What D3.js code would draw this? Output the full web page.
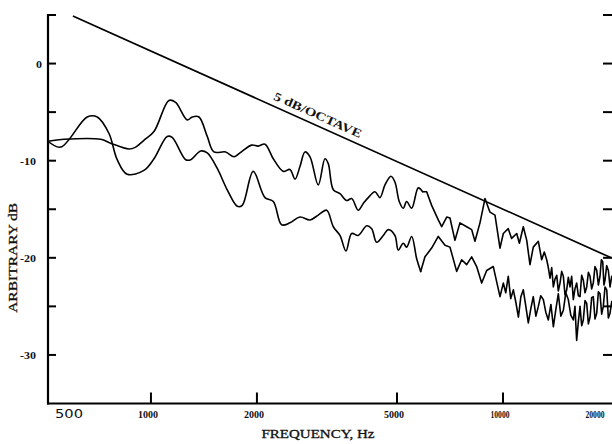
<!DOCTYPE html>
<html>
<head>
<meta charset="utf-8">
<script src="https://cdn.jsdelivr.net/npm/d3@7"></script>
<style>
  body { margin: 0; background: #fff; }
  text { fill: #111; }
</style>
</head>
<body>
<svg id="chart"></svg>
<script>
// Upper spectrum (frequency in Hz, level in dB)
const freqUpper = [510, 566, 720, 768, 866, 905, 955, 1020, 1125, 1175, 1268, 1310, 1369, 1445, 1510, 1630, 1721, 1790,
  1932, 2017, 2108, 2226, 2376, 2482, 2566, 2650, 2739, 2830, 2987, 3121, 3189, 3296, 3443, 3597, 3717, 3880, 4010,
  4143, 4328, 4472, 4621, 4805, 4932, 5073, 5208, 5325, 5503, 5746, 5914, 6070, 6271, 6549, 6697, 6920, 7070, 7304,
  7546, 7885, 8147, 8325, 8602, 8889, 9185, 9490, 9806, 10020, 10350, 10580, 10940, 11130, 11420, 11680, 11930,
  12190, 12600, 12880, 13100, 13310, 13450, 13600, 13750, 13900, 14050, 14210, 14360, 14520, 14680, 14840, 15000,
  15170, 15330, 15500, 15670, 15840, 16010, 16190, 16370, 16550, 16730, 16910, 17100, 17290, 17480, 17670, 17860,
  18050, 18250, 18460, 18660, 18860, 19030, 19200, 19350, 19490, 19700, 19920, 20140, 20360];
const dbUpper = [-8.0, -7.8, -7.8, -8.2, -8.8, -8.6, -7.9, -7.0, -3.8, -4.0, -5.8, -5.5, -5.5, -7.5, -9.1, -9.1, -9.6, -9.2,
  -8.4, -8.5, -8.3, -9.8, -11.1, -10.9, -11.9, -10.6, -9.1, -9.6, -12.5, -9.8, -10.3, -13.0, -13.4, -14.1, -13.9, -15.1, -14.4,
  -13.8, -13.2, -13.8, -12.5, -11.6, -12.2, -14.2, -14.9, -14.2, -14.9, -12.8, -13.2, -13.2, -14.6, -16.1, -16.8, -15.8, -15.9, -18.2,
  -16.4, -16.8, -17.1, -18.3, -16.4, -13.9, -15.3, -15.6, -19.0, -17.5, -17.0, -18.0, -17.5, -18.5, -16.8, -18.2, -20.7,
  -18.9, -18.3, -20.2, -19.4, -20.2, -21.0, -22.1, -21.0, -23.0, -22.2, -21.8, -23.4, -22.6, -21.4, -21.9, -23.8,
  -23.3, -22.0, -23.0, -21.9, -24.3, -23.2, -22.6, -23.9, -24.0, -21.8, -22.3, -23.6, -23.0, -21.5, -21.9, -23.2,
  -22.6, -20.9, -21.3, -22.8, -21.9, -20.2, -20.4, -22.8, -22.3, -20.8, -21.3, -23.0, -21.9];

// Lower spectrum
const freqLower = [510, 554, 659, 704, 760, 802, 856, 955, 1020, 1112, 1149, 1255, 1297, 1384, 1445, 1543, 1647, 1759, 1817,
  1952, 2108, 2226, 2351, 2482, 2650, 2830, 2987, 3156, 3296, 3443, 3581, 3717, 3880, 4100, 4236, 4376, 4570, 4721, 4932,
  5040, 5208, 5325, 5503, 5686, 5837, 6003, 6271, 6549, 6843, 7070, 7386, 7631, 7885, 8147, 8418, 8698, 8988, 9385, 9806,
  10020, 10180, 10350, 10520, 10700, 10880, 11060, 11240, 11420, 11600, 11800, 12000, 12190, 12400, 12600, 12800,
  13020, 13230, 13450, 13680, 13900, 14130, 14360, 14600, 14840, 15080, 15330, 15580, 15840, 16010, 16190, 16370,
  16550, 16730, 16910, 17100, 17290, 17480, 17670, 17860, 18050, 18250, 18460, 18660, 18860, 19070, 19270, 19490,
  19710, 19920, 20140, 20360];
const dbLower = [-8.0, -8.6, -5.5, -5.5, -7.2, -9.9, -11.4, -11.0, -9.8, -7.5, -7.6, -9.9, -9.9, -9.0, -9.2, -10.8, -13.0, -14.7, -14.6,
  -11.1, -13.8, -14.2, -16.6, -16.4, -15.8, -16.1, -15.6, -15.1, -16.8, -17.7, -19.3, -17.5, -17.7, -16.7, -17.0, -18.4, -17.7, -17.1, -17.7,
  -19.2, -18.5, -18.9, -17.8, -20.1, -21.4, -19.9, -19.0, -17.8, -18.7, -18.9, -21.4, -20.2, -20.7, -19.9, -20.9, -22.6, -21.3, -20.9, -24.0,
  -22.6, -23.6, -21.9, -24.2, -23.3, -24.6, -26.1, -24.0, -23.3, -24.9, -26.7, -25.2, -24.0, -26.0, -25.0, -23.9,
  -24.3, -25.6, -26.4, -24.8, -27.1, -25.3, -23.7, -26.0, -25.4, -23.6, -24.3, -25.9, -26.4, -25.0, -28.5, -26.6,
  -25.0, -27.0, -26.4, -24.4, -24.7, -26.8, -26.1, -24.1, -24.0, -26.3, -25.7, -23.5, -23.7, -25.8, -25.0, -23.0,
  -23.3, -26.2, -25.7, -24.5];

// 5 dB/octave reference line end points
const slopeFreq = [600, 20300];
const slopeDb = [4.9, -20.0];

const yTicks = [5, 0, -5, -10, -15, -20, -25, -30];
const yLabels = [0, -10, -20, -30];
const xTicks = [1000, 2000, 5000, 10000];
const xLabels = [500, 1000, 2000, 5000, 10000, 20000];

const width = 612, height = 444;
const svg = d3.select("#chart")
    .attr("width", width)
    .attr("height", height);

const x = d3.scaleLog().domain([510, 20400]).range([48, 612]);
const y = d3.scaleLinear().domain([-35, 5]).range([403.5, 15]);

const serif = "'Liberation Serif', 'DejaVu Serif', serif";

// axes frame: left and bottom lines
svg.append("line")
    .attr("x1", x(510)).attr("x2", x(510))
    .attr("y1", y(5) - 1).attr("y2", y(-35) + 1)
    .attr("stroke", "#000").attr("stroke-width", 2.2);
svg.append("line")
    .attr("x1", x(510) - 1).attr("x2", width)
    .attr("y1", y(-35)).attr("y2", y(-35))
    .attr("stroke", "#000").attr("stroke-width", 2.2);

// left ticks
svg.selectAll(".ytick-l")
    .data(yTicks)
    .enter().append("line")
    .attr("x1", x(510)).attr("x2", x(510) + 8)
    .attr("y1", d => y(d)).attr("y2", d => y(d))
    .attr("stroke", "#000").attr("stroke-width", 2);

// right ticks
svg.selectAll(".ytick-r")
    .data(yTicks)
    .enter().append("line")
    .attr("x1", width - 9).attr("x2", width)
    .attr("y1", d => y(d)).attr("y2", d => y(d))
    .attr("stroke", "#000").attr("stroke-width", 2);

// bottom ticks
svg.selectAll(".xtick")
    .data(xTicks)
    .enter().append("line")
    .attr("x1", d => x(d)).attr("x2", d => x(d))
    .attr("y1", y(-35)).attr("y2", y(-35) - 11)
    .attr("stroke", "#000").attr("stroke-width", 2);

// y tick labels
svg.selectAll(".ylab")
    .data(yLabels)
    .enter().append("text")
    .attr("x", d => d === 0 ? 42 : 36)
    .attr("y", d => y(d) + 4)
    .attr("text-anchor", "end")
    .attr("font-family", serif)
    .attr("font-size", 11)
    .attr("font-weight", "bold")
    .attr("textLength", d => d === 0 ? 6 : 16)
    .attr("lengthAdjust", "spacingAndGlyphs")
    .text(d => d);

// x tick labels (20000 sits at the right edge, pulled in)
svg.selectAll(".xlab")
    .data(xLabels)
    .enter().append("text")
    .attr("x", d => d === 500 ? 69 : Math.min(x(d) - 3, 595))
    .attr("y", 418)
    .attr("text-anchor", "middle")
    .attr("font-family", d => d === 500 ? "'DejaVu Sans', sans-serif" : serif)
    .attr("font-size", d => d === 500 ? 13 : 11)
    .attr("font-weight", d => d === 500 ? "normal" : "bold")
    .attr("textLength", d => d === 500 ? 28 : (d >= 10000 ? 19 : 20))
    .attr("lengthAdjust", "spacingAndGlyphs")
    .text(d => d);

// axis titles
svg.append("text")
    .attr("transform", `translate(17,${(y(-8) + y(-32)) / 2}) rotate(-90)`)
    .attr("text-anchor", "middle")
    .attr("font-family", serif)
    .attr("font-size", 13)
    .attr("stroke", "#111").attr("stroke-width", 0.3)
    .attr("textLength", 110)
    .attr("lengthAdjust", "spacingAndGlyphs")
    .text("ARBITRARY dB");

svg.append("text")
    .attr("x", 318)
    .attr("y", 438)
    .attr("text-anchor", "middle")
    .attr("font-family", serif)
    .attr("font-size", 12)
    .attr("stroke", "#111").attr("stroke-width", 0.3)
    .attr("textLength", 113)
    .attr("lengthAdjust", "spacingAndGlyphs")
    .text("FREQUENCY, Hz");

// curves: smooth below ~6 kHz, jagged noise above
const split = 6000;
const smooth = d3.line()
    .x(d => x(d[0]))
    .y(d => y(d[1]))
    .curve(d3.curveCatmullRom.alpha(0.5));
const jagged = d3.line()
    .x(d => x(d[0]))
    .y(d => y(d[1]));

const upper = freqUpper.map((f, i) => [f, dbUpper[i]]);
const lower = freqLower.map((f, i) => [f, dbLower[i]]);

[upper, lower].forEach(series => {
    const k = series.findIndex(d => d[0] > split);
    [[series.slice(0, k), smooth], [series.slice(k - 1), jagged]].forEach(([part, gen]) => {
        svg.append("path")
            .datum(part)
            .attr("fill", "none")
            .attr("stroke", "#000")
            .attr("stroke-width", 1.6)
            .attr("stroke-linejoin", "round")
            .attr("stroke-linecap", "round")
            .attr("d", gen);
    });
});

// 5 dB/octave line
const slope = slopeFreq.map((f, i) => [f, slopeDb[i]]);
svg.append("path")
    .datum(slope)
    .attr("fill", "none")
    .attr("stroke", "#000")
    .attr("stroke-width", 1.7)
    .attr("d", jagged);

const x0 = x(slopeFreq[0]), y0 = y(slopeDb[0]);
const x1 = x(slopeFreq[1]), y1 = y(slopeDb[1]);
const angle = Math.atan2(y1 - y0, x1 - x0) * 180 / Math.PI;
const labelF = 2900;
const lx = x(labelF);
const ly = y0 + (lx - x0) * (y1 - y0) / (x1 - x0);
svg.append("text")
    .attr("transform", `translate(${lx},${ly}) rotate(${angle}) translate(0,-6)`)
    .attr("text-anchor", "middle")
    .attr("font-family", serif)
    .attr("font-size", 12)
    .attr("font-weight", "bold")
    .attr("textLength", 95)
    .attr("lengthAdjust", "spacingAndGlyphs")
    .text("5 dB/OCTAVE");
</script>
</body>
</html>
